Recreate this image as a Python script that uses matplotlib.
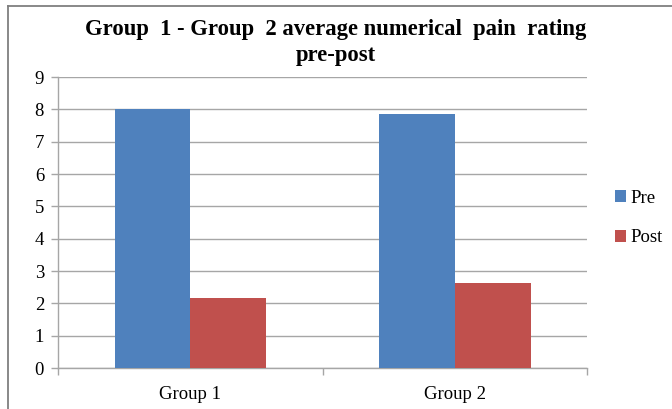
import matplotlib
matplotlib.use("Agg")
import matplotlib.pyplot as plt
from matplotlib.lines import Line2D
import numpy as np

categories = ["Group 1", "Group 2"]
pre_values = [8.0, 7.85]
post_values = [2.16, 2.64]
series_names = ["Pre", "Post"]
title = "Group  1 - Group  2 average numerical  pain  rating\npre-post"

blue = "#4F81BD"
red = "#C0504D"
grid_c = "#A6A6A6"

plt.rcParams["font.family"] = ["Liberation Serif", "DejaVu Serif"]

fig = plt.figure(figsize=(6.72, 4.09), dpi=100)
# chart frame: only the left and top edges fall inside the image
fig.lines.append(Line2D([0.012, 0.012], [0.0, 0.985], transform=fig.transFigure,
                        color="#7F7F7F", linewidth=1.3))
fig.lines.append(Line2D([0.012, 1.0], [0.985, 0.985], transform=fig.transFigure,
                        color="#7F7F7F", linewidth=1.3))

ax = fig.add_axes([0.0863, 0.1002, 0.7875, 0.7115])
x = np.arange(len(categories))
w = 0.286
ax.bar(x - w / 2, pre_values, w, color=blue, label=series_names[0], zorder=3)
ax.bar(x + w / 2, post_values, w, color=red, label=series_names[1], zorder=3)

ax.set_xlim(-0.5, 1.5)
ax.set_ylim(0, 9)
ax.set_yticks(range(0, 10))
ax.yaxis.grid(True, color=grid_c, linewidth=1.0, zorder=0)
ax.set_axisbelow(True)

ax.set_xticks(x)
ax.set_xticklabels(categories, fontsize=13.5)
ax.set_xticks([-0.5, 0.5, 1.5], minor=True)
ax.tick_params(axis="x", which="major", length=0, pad=13)
ax.tick_params(axis="x", which="minor", length=5, color=grid_c, width=1.0)
ax.tick_params(axis="y", length=5, color=grid_c, width=1.0, labelsize=13.5, pad=5)

for s in ["top", "right"]:
    ax.spines[s].set_visible(False)
for s in ["left", "bottom"]:
    ax.spines[s].set_color(grid_c)
    ax.spines[s].set_linewidth(1.0)

fig.text(0.5, 0.896, title, ha="center", va="center", fontsize=16.3,
         fontweight="bold", linespacing=1.33)

ax.legend(loc="center left", bbox_to_anchor=(1.02, 0.515), frameon=False,
          fontsize=13.5, handlelength=0.6, handleheight=0.6, handletextpad=0.25,
          labelspacing=1.2)

fig.savefig("out.png", dpi=100)
